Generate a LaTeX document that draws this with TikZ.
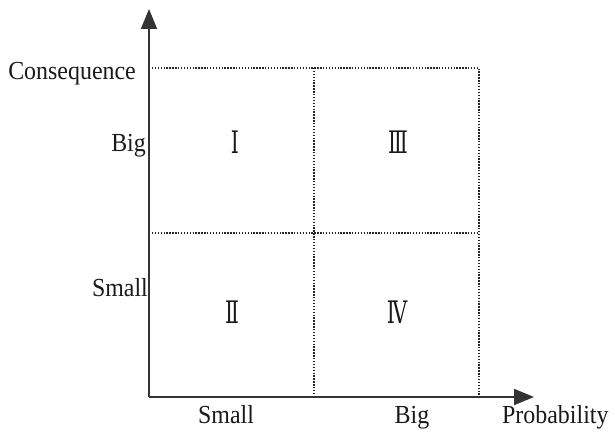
\documentclass[tikz,border=0pt]{standalone}
\usepackage{fontspec}
\setmainfont{Liberation Serif}
\newfontfamily\numfont{DejaVu Serif}
\usetikzlibrary{arrows.meta}
\begin{document}
\begin{tikzpicture}[x=1pt,y=-1pt,
  axis/.style={line width=1.9pt,draw=black!80,-{Triangle[length=20pt,width=16pt]}},
  grid/.style={line width=1.6pt,draw=black!85,dash pattern=on 1.4pt off 1.5pt},
  lbl/.style={font=\fontsize{26}{26}\selectfont,inner sep=0pt,xscale=0.92,text=black!90},
  num/.style={font=\numfont\fontsize{31}{31}\selectfont,inner sep=0pt,xscale=0.66,text=black!90}]
\useasboundingbox (0,0) rectangle (615,435);
\coordinate (O) at (149,397);
\coordinate (ytip) at (149,9);
\coordinate (xtip) at (534,397);
\coordinate (tl) at (149,68);
\coordinate (tm) at (314,68);
\coordinate (tr) at (479,68);
\coordinate (ml) at (149,233);
\coordinate (mr) at (479,233);
\coordinate (bm) at (314,397);
\coordinate (br) at (479,397);
\draw[grid] (tl) -- (tr) -- (br);
\draw[grid] (tm) -- (bm);
\draw[grid] (ml) -- (mr);
\draw[axis] (O) -- (ytip);
\draw[axis] (O) -- (xtip);
\node[lbl,anchor=base east] (cons) at (136,80) {Consequence};
\node[lbl,anchor=base east] (ybig) at (146,152) {Big};
\node[lbl,anchor=base east] (ysmall) at (148,297) {Small};
\node[lbl,anchor=base] (xsmall) at (226,423) {Small};
\node[lbl,anchor=base] (xbig) at (412,423) {Big};
\node[lbl,anchor=base west] (prob) at (502,423) {Probability};
\node[num] (q1) at (235,142) {Ⅰ};
\node[num] (q3) at (398,142) {Ⅲ};
\node[num] (q2) at (232,312) {Ⅱ};
\node[num] (q4) at (397,312) {Ⅳ};
\end{tikzpicture}
\end{document}
